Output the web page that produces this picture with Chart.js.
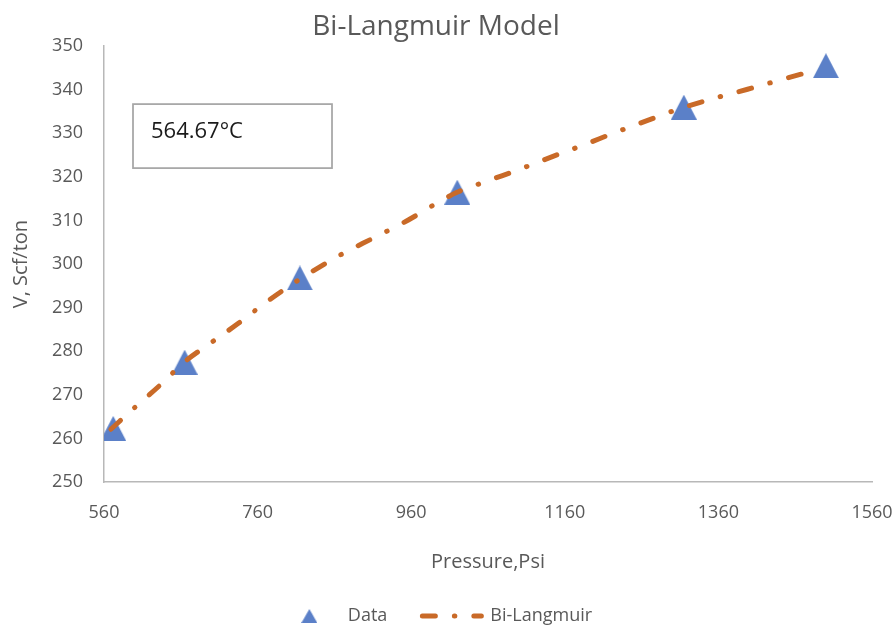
<!DOCTYPE html>
<html>
<head>
<meta charset="utf-8">
<script src="https://cdn.jsdelivr.net/npm/chart.js@4/dist/chart.umd.min.js"></script>
<style>
  html, body { margin: 0; padding: 0; background: #fff; }
  #wrap { width: 895px; height: 625px; }
</style>
</head>
<body>
<div id="wrap"><canvas id="chart" width="895" height="625"></canvas></div>
<script>
// measured points
const pressureData = [572, 665, 815, 1020, 1315, 1500];
const volumeData = [262.3, 277.5, 296.8, 316.5, 336.0, 345.5];

// fitted curve
const fitPressure = [569, 602, 636, 663, 699, 735, 770, 806, 832, 871, 910, 949, 1019, 1060, 1102, 1143, 1184, 1226, 1267, 1307, 1356, 1398, 1440, 1483];
const fitVolume = [262.1, 267.4, 272.7, 277.3, 281.9, 286.4, 291.1, 295.5, 298.4, 302.4, 305.9, 309.4, 316.4, 319.1, 321.8, 324.6, 327.3, 330.2, 332.9, 335.5, 338.1, 340.1, 342.2, 344.3];

const xTicks = [560, 760, 960, 1160, 1360, 1560];
const yTicks = [250, 260, 270, 280, 290, 300, 310, 320, 330, 340, 350];

const tempLabel = "564.67°C";

const FONT = "'Open Sans', 'Liberation Sans', sans-serif";
const GREY = "#595959";
const BLUE = "#5B80C8";
const ORANGE = "#C96A28";
const fitDash = [13, 19, 0.5, 19];

// triangle marker, centred on its bounding box like the Excel marker
function makeTriangle(w, h) {
  const cv = document.createElement("canvas");
  cv.width = w;
  cv.height = h;
  const c = cv.getContext("2d");
  c.fillStyle = BLUE;
  c.beginPath();
  c.moveTo(w / 2, 0);
  c.lineTo(w, h);
  c.lineTo(0, h);
  c.closePath();
  c.fill();
  return cv;
}
const markerTri = makeTriangle(26, 25);
const legendTri = makeTriangle(16, 14);

// the little text box in the upper left
const textBox = {
  id: "textBox",
  afterDraw(chart) {
    const { ctx, chartArea } = chart;
    const x = chartArea.left + 29, y = chartArea.top + 58;
    ctx.save();
    ctx.strokeStyle = "#A6A6A6";
    ctx.lineWidth = 1.75;
    ctx.strokeRect(x, y, 199, 64);
    ctx.fillStyle = "#1a1a1a";
    ctx.font = "22px " + FONT;
    ctx.textBaseline = "alphabetic";
    ctx.fillText(tempLabel, x + 18, y + 34);
    ctx.restore();
  }
};

new Chart(document.getElementById("chart"), {
  type: "scatter",
  data: {
    datasets: [{
      label: "Data",
      data: pressureData.map((p, i) => ({ x: p, y: volumeData[i] })),
      pointStyle: markerTri,
      pointRadius: 13,
      pointHoverRadius: 13,
      backgroundColor: BLUE,
      borderColor: BLUE,
      borderWidth: 0,
      order: 2
    }, {
      label: "Bi-Langmuir",
      data: fitPressure.map((p, i) => ({ x: p, y: fitVolume[i] })),
      showLine: true,
      pointRadius: 0,
      pointHoverRadius: 0,
      pointStyle: "line",
      borderColor: ORANGE,
      backgroundColor: ORANGE,
      borderWidth: 5,
      borderDash: fitDash,
      borderCapStyle: "round",
      cubicInterpolationMode: "monotone",
      fill: false,
      order: 1
    }]
  },
  options: {
    responsive: false,
    animation: false,
    events: [],
    layout: { padding: { left: 0, right: 23, top: 0, bottom: -10 } },
    plugins: {
      title: {
        display: true,
        text: "Bi-Langmuir Model",
        color: GREY,
        font: { family: FONT, size: 28, weight: "normal" },
        padding: { top: 10, bottom: 2.5 }
      },
      legend: {
        position: "bottom",
        labels: {
          usePointStyle: true,
          pointStyleWidth: 59,
          boxHeight: 12,
          padding: 35,
          color: GREY,
          font: { family: FONT, size: 18 },
          sort: (a, b) => a.datasetIndex - b.datasetIndex,
          generateLabels(chart) {
            const items = Chart.defaults.plugins.legend.labels.generateLabels(chart);
            items.forEach(item => {
              if (item.datasetIndex === 1) {
                item.lineDash = fitDash;
                item.lineWidth = 5;
                item.lineCap = "round";
                item.strokeStyle = ORANGE;
              } else {
                item.pointStyle = legendTri;
                item.lineWidth = 0;
              }
            });
            return items;
          }
        }
      },
      tooltip: { enabled: false }
    },
    scales: {
      x: {
        type: "linear",
        min: 560,
        max: 1560,
        afterBuildTicks(scale) { scale.ticks = xTicks.map(v => ({ value: v })); },
        afterFit(scale) {
          scale.height = 90;
          scale.paddingLeft = 0;
          scale.paddingRight = 0;
        },
        grid: { display: false, drawTicks: false },
        border: { display: true, color: "#B8B8B8", width: 1.5 },
        ticks: {
          color: GREY,
          padding: 20,
          font: { family: FONT, size: 18 },
          callback: v => String(v)
        },
        title: {
          display: true,
          text: "Pressure,Psi",
          color: GREY,
          font: { family: FONT, size: 20 },
          padding: { top: 0, bottom: -2 }
        }
      },
      y: {
        type: "linear",
        min: 250,
        max: 350,
        afterBuildTicks(scale) { scale.ticks = yTicks.map(v => ({ value: v })); },
        afterFit(scale) { scale.width = 104; },
        grid: { display: false, drawTicks: false },
        border: { display: true, color: "#B8B8B8", width: 1.5 },
        ticks: {
          color: GREY,
          padding: 21,
          font: { family: FONT, size: 18 },
          callback: v => String(v)
        },
        title: {
          display: true,
          text: "V, Scf/ton",
          color: GREY,
          font: { family: FONT, size: 20 },
          padding: { top: 9, bottom: 0 }
        }
      }
    }
  },
  plugins: [textBox]
});
</script>
</body>
</html>
